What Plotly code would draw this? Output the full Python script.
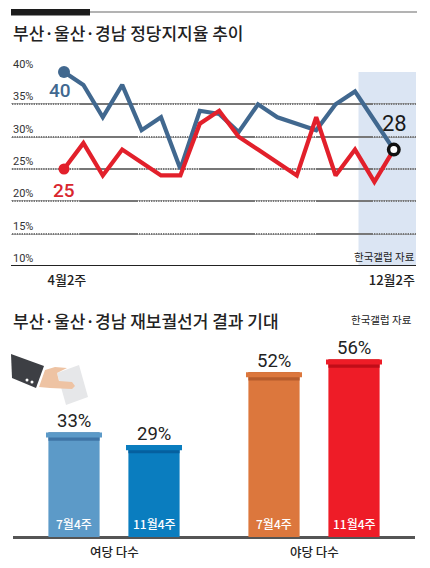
import plotly.graph_objects as go

FONT = "Noto Sans CJK KR"
NUM = "Roboto"
W, H = 430, 568

# ---- data
weeks = list(range(18))
blue_vals = [40, 38, 33, 38, 31, 33, 25, 34, 33.5, 30.7, 35, 33, 32, 31, 35, 37, 32.5, 28]
red_vals = [25, 29, 24, 28, 26, 24, 24, 32, 34, 30, 28, 26, 24, 33, 24, 28, 23, 28]
y_ticks = [10, 15, 20, 25, 30, 35, 40]
x_tick_vals = [0.15, 16.9]
x_tick_text = ["4월2주", "12월2주"]

bar_positions = [0, 1, 2.5, 3.5]
bar_values = [33, 29, 52, 56]
bar_labels = ["7월4주", "11월4주", "7월4주", "11월4주"]
bar_text = ["33%", "29%", "52%", "56%"]
bar_colors = ["#5c9ac8", "#0a7dbf", "#dc773d", "#ee1c27"]
bar_dark = ["#3f74a6", "#05609f", "#b65c2c", "#c00d18"]
group_pos = [0.5, 3]
group_names = ["여당 다수", "야당 다수"]

def px(x):
    return x / W
def py(y):
    return 1 - y / H

STEP = 19.4
def wx(p):            # pixel -> week coordinate of the line chart
    return (p - 64) / STEP

fig = go.Figure()

# ---- line chart
for vals, col in ((blue_vals, "#41688f"), (red_vals, "#e2202b")):
    fig.add_trace(go.Scatter(x=weeks, y=vals, mode="lines", line=dict(color=col, width=4.2),
                             xaxis="x", yaxis="y", cliponaxis=False, showlegend=False, hoverinfo="skip"))
fig.add_trace(go.Scatter(x=weeks[:1], y=blue_vals[:1], mode="markers", marker=dict(color="#41688f", size=12),
                         xaxis="x", yaxis="y", cliponaxis=False, showlegend=False, hoverinfo="skip"))
fig.add_trace(go.Scatter(x=weeks[:1], y=red_vals[:1], mode="markers", marker=dict(color="#e2202b", size=11),
                         xaxis="x", yaxis="y", cliponaxis=False, showlegend=False, hoverinfo="skip"))
fig.add_trace(go.Scatter(x=weeks[-1:], y=blue_vals[-1:], mode="markers",
                         marker=dict(color="white", size=10.5, line=dict(color="#111111", width=3.5)),
                         xaxis="x", yaxis="y", cliponaxis=False, showlegend=False, hoverinfo="skip"))

# ---- bars
fig.add_trace(go.Bar(x=bar_positions, y=bar_values, marker=dict(color=bar_colors, line=dict(width=0)), width=0.64,
                     xaxis="x2", yaxis="y2", showlegend=False, hoverinfo="skip"))
# lid: lighter cap on top of a darker strip, both hanging from the bar's value
fig.add_trace(go.Bar(x=bar_positions, y=[2.6] * 4, base=[v - 2.6 for v in bar_values],
                     marker=dict(color=bar_dark, line=dict(width=0)), width=0.64,
                     xaxis="x2", yaxis="y2", showlegend=False, hoverinfo="skip"))
fig.add_trace(go.Bar(x=bar_positions, y=[1.6] * 4, base=[v - 1.6 for v in bar_values],
                     marker=dict(color=bar_colors, line=dict(width=0)), width=0.70,
                     xaxis="x2", yaxis="y2", showlegend=False, hoverinfo="skip"))

x_left = wx(11)
x_right = wx(416)

shapes = [
    dict(type="line", xref="paper", yref="paper", x0=px(11), x1=px(417), y0=py(12), y1=py(12),
         line=dict(color="#9a9a9a", width=1.5)),
    dict(type="rect", xref="paper", yref="paper", x0=px(11), x1=px(90), y0=py(9), y1=py(15.5),
         fillcolor="#1c1c1c", line=dict(width=0)),
    dict(type="rect", xref="x", yref="y domain", x0=wx(358.5), x1=x_right, y0=0, y1=1,
         fillcolor="#dbe5f3", line=dict(width=0), layer="below"),
]

# the grid lines turn dotted over stretches of their length
dotted_spans = [(11, 80, "white"), (138, 200, "white"), (255, 316, "white"), (373, 416, "#dbe5f3")]
for t in y_ticks[1:]:
    for a, b, c in dotted_spans:
        shapes.append(dict(type="line", xref="x", yref="y", x0=wx(a), x1=wx(b), y0=t, y1=t, layer="between",
                           line=dict(color=c, width=1.6, dash="1px 1.4px")))

def poly(points, color):
    d = "M " + " L ".join(f"{px(x)},{py(y)}" for x, y in points) + " Z"
    return dict(type="path", xref="paper", yref="paper", path=d, fillcolor=color, line=dict(width=0))

shapes += [
    poly([(11, 354), (44, 366), (36, 388), (12, 378)], "#3d3f44"),
    poly([(57, 373), (79, 365), (88, 397), (66, 405)], "#e6e7e9"),
    poly([(45, 370), (55, 367), (67, 368), (57, 373), (59, 381), (72, 382), (75, 386), (72, 389), (50, 388), (39, 387)],
         "#eec3a3"),
    dict(type="circle", xref="paper", yref="paper", x0=px(25.5), x1=px(28.5), y0=py(378.5), y1=py(381.5),
         fillcolor="white", line=dict(width=0)),
    dict(type="circle", xref="paper", yref="paper", x0=px(30.5), x1=px(33.5), y0=py(380.5), y1=py(383.5),
         fillcolor="white", line=dict(width=0)),
]

annotations = []
def note(x, y, text, size, color="#222222", xanchor="left", yanchor="middle", xref="paper", yref="paper",
         family=FONT, weight=400, yshift=0):
    annotations.append(dict(x=px(x) if xref == "paper" else x, y=py(y) if yref == "paper" else y,
                            xref=xref, yref=yref, text=text, showarrow=False, xanchor=xanchor, yanchor=yanchor,
                            font=dict(family=family, size=size, color=color, weight=weight),
                            borderpad=0, yshift=yshift))

note(12, 33, "부산·울산·경남 정당지지율 추이", 17, weight=500)
note(12, 320, "부산·울산·경남 재보궐선거 결과 기대", 17, weight=500)
note(413, 319, "한국갤럽 자료", 10.5, xanchor="right")
note(415.5, 256, "한국갤럽 자료", 10.5, xanchor="right")
for t in y_ticks:
    note(11.5, t, f"{t}%", 11, color="#333333", yref="y", yanchor="bottom", family=NUM, yshift=0)
note(60, 91, str(blue_vals[0]), 19, color="#41688f", xanchor="center", family=NUM, weight=500)
note(64, 191, str(red_vals[0]), 19, color="#d9262e", xanchor="center", family=NUM, weight=500)
note(394, 123, str(blue_vals[-1]), 22, color="#1a1a1a", xanchor="center", family=NUM)
for p, v, t, lab in zip(bar_positions, bar_values, bar_text, bar_labels):
    note(p, v, t, 18.5, xref="x2", yref="y2", xanchor="center", yanchor="bottom", family=NUM, yshift=-1)
    note(p, 523, lab, 12, color="white", xref="x2", xanchor="center", weight=500)
for p, n in zip(group_pos, group_names):
    note(p, 551, n, 12.5, xref="x2", xanchor="center", weight=500)

fig.update_layout(
    width=W, height=H, autosize=False,
    margin=dict(l=0, r=0, t=0, b=0),
    paper_bgcolor="white", plot_bgcolor="rgba(0,0,0,0)",
    barmode="overlay", showlegend=False,
    font=dict(family=FONT),
    shapes=shapes, annotations=annotations,
    xaxis=dict(domain=[px(11), px(416)], range=[x_left, x_right], anchor="y", tickvals=x_tick_vals,
               ticktext=x_tick_text, ticks="", showgrid=False, zeroline=False, showline=False,
               ticklabelstandoff=5, tickfont=dict(family=FONT, size=13, color="#222222", weight=500)),
    yaxis=dict(domain=[py(266), py(72)], range=[10, 40], anchor="x", tickvals=y_ticks, showticklabels=False,
               ticks="", gridcolor="#777777", gridwidth=1.5, zeroline=False, showline=False),
    xaxis2=dict(domain=[px(13), px(415)], range=[(13 - 74) / 80, (415 - 74) / 80], anchor="y2",
                showticklabels=False, ticks="", showgrid=False, zeroline=False, showline=False),
    yaxis2=dict(domain=[py(537), py(337)], range=[0, 200 / 3.17], anchor="x2", showticklabels=False, ticks="",
                showgrid=False, zeroline=True, zerolinecolor="#555555", zerolinewidth=2.5, showline=False),
)
fig.add_hline(y=10, line=dict(color="#222222", width=2), xref="x", yref="y")

fig.write_html("out.html", config=dict(displayModeBar=False),
               post_script="document.body.style.margin='0';document.documentElement.style.overflow='hidden';")
